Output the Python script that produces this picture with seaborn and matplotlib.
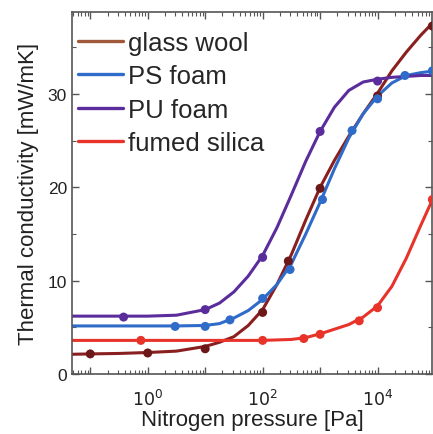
import numpy as np
import pandas as pd
import seaborn as sns
import matplotlib.pyplot as plt
from matplotlib.lines import Line2D
from matplotlib.ticker import LogLocator, FixedLocator, NullFormatter

# measured points (pressure in Pa, conductivity in mW/mK)
gw_p = [0.1, 1, 10, 100, 280, 1000, 1e4, 9e4]
gw_k = [2.15, 2.25, 2.7, 6.6, 12.1, 19.9, 29.8, 37.3]
ps_p = [3, 10, 27, 100, 300, 1100, 3600, 1e4, 3e4, 9e4]
ps_k = [5.1, 5.1, 5.8, 8.1, 11.2, 18.7, 26.1, 29.5, 32.0, 32.5]
pu_p = [0.38, 10, 100, 1000, 1e4]
pu_k = [6.1, 6.9, 12.5, 26.0, 31.4]
fs_p = [0.76, 100, 520, 1000, 4800, 1e4, 9e4]
fs_k = [3.6, 3.6, 3.8, 4.25, 5.7, 7.1, 18.7]

# fitted curves at quarter decades (log10 of pressure)
fit_logp = [-1.4, -1.0, -0.5, 0.0, 0.5, 1.0, 1.25, 1.5, 1.75, 2.0, 2.25, 2.5,
            2.75, 3.0, 3.25, 3.5, 3.75, 4.0, 4.25, 4.5, 4.75, 5.0]
gw_fit = [2.1, 2.15, 2.2, 2.3, 2.45, 2.95, 3.4, 4.0, 5.2, 6.9, 9.6, 12.8,
          16.5, 20.0, 22.9, 25.5, 27.9, 30.1, 32.5, 34.5, 36.3, 37.9]
ps_fit = [5.15, 5.15, 5.15, 5.15, 5.15, 5.2, 5.4, 6.0, 6.8, 8.0, 9.6, 11.8,
          15.0, 18.4, 22.0, 25.3, 27.9, 29.8, 31.2, 32.0, 32.3, 32.5]
pu_fit = [6.2, 6.2, 6.2, 6.2, 6.3, 6.9, 7.6, 8.8, 10.5, 12.7, 15.7, 19.2,
          22.8, 26.0, 28.6, 30.4, 31.3, 31.6, 31.8, 31.9, 32.0, 32.0]
fs_fit = [3.6, 3.6, 3.6, 3.6, 3.6, 3.6, 3.6, 3.6, 3.6, 3.6, 3.65, 3.7,
          3.9, 4.3, 4.8, 5.3, 6.1, 7.3, 9.4, 12.4, 15.9, 19.3]

names = ['glass wool', 'PS foam', 'PU foam', 'fumed silica']
line_cols = ['#8a1f1f', '#2f6cc9', '#5a2c9c', '#e8332b']
dot_cols = ['#6c1818', '#2f6cc9', '#5a2c9c', '#e8332b']
legend_cols = ['#a0583a', '#2f6cc9', '#5a2c9c', '#e8332b']

pts = pd.concat([
    pd.DataFrame({'p': gw_p, 'k': gw_k, 'mat': names[0]}),
    pd.DataFrame({'p': ps_p, 'k': ps_k, 'mat': names[1]}),
    pd.DataFrame({'p': pu_p, 'k': pu_k, 'mat': names[2]}),
    pd.DataFrame({'p': fs_p, 'k': fs_k, 'mat': names[3]}),
])
fit_p = 10.0 ** np.array(fit_logp)
fits = pd.concat([pd.DataFrame({'p': fit_p, 'k': k, 'mat': n})
                  for n, k in zip(names, [gw_fit, ps_fit, pu_fit, fs_fit])])

sns.set_style('ticks')
plt.rcParams['font.family'] = ['Liberation Sans', 'DejaVu Sans']

fig = plt.figure(figsize=(4.33, 4.35), dpi=100)
ax = fig.add_axes([0.166, 0.138, 0.832, 0.832])

sns.lineplot(data=fits, x='p', y='k', hue='mat', palette=dict(zip(names, line_cols)),
             linewidth=2.2, legend=False, ax=ax, sort=False)
sns.scatterplot(data=pts, x='p', y='k', hue='mat', palette=dict(zip(names, dot_cols)),
                s=42, edgecolor='none', legend=False, ax=ax, zorder=3)

ax.set_xscale('log')
ax.set_xlim(10 ** -1.32, 10 ** 4.95)
ax.set_ylim(0, 38.8)
# every decade gets a major tick, only even decades are labelled
ax.xaxis.set_major_locator(FixedLocator([0.1, 1, 10, 100, 1000, 1e4]))
ax.xaxis.set_minor_locator(LogLocator(base=10, subs=np.arange(2, 10), numticks=20))
ax.set_xticklabels(['', '$10^0$', '', '$10^2$', '', '$10^4$'])
ax.xaxis.set_minor_formatter(NullFormatter())
ax.set_yticks([0, 10, 20, 30])
ax.yaxis.set_minor_locator(FixedLocator([5, 15, 25, 35]))
ax.tick_params(which='both', direction='in', top=True, right=True, colors='#555555',
               labelcolor='#222222', labelsize=12.5)
ax.tick_params(axis='x', which='major', pad=10)
ax.tick_params(which='major', length=5, width=1)
ax.tick_params(which='minor', length=3, width=0.8)
for s in ax.spines.values():
    s.set_color('#555555')
    s.set_linewidth(1.2)

ax.set_xlabel('Nitrogen pressure [Pa]', fontsize=16, color='#222222', labelpad=1)
ax.set_ylabel('Thermal conductivity [mW/mK]', fontsize=16, color='#222222', labelpad=6)

handles = [Line2D([], [], color=c, linewidth=2.4) for c in legend_cols]
ax.legend(handles, names, loc='upper left', bbox_to_anchor=(0.0, 0.966),
          frameon=False, fontsize=18.5, handlelength=1.75, handletextpad=0.2,
          labelspacing=0.37, borderaxespad=0.0, borderpad=0.25)

fig.savefig('out.png', dpi=100)
